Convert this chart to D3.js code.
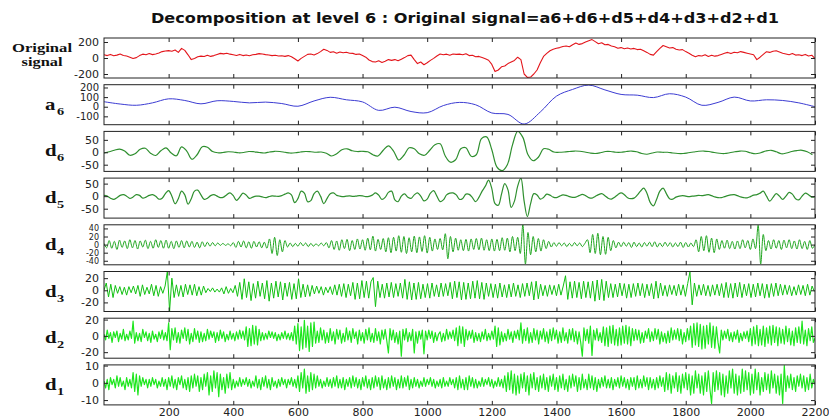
<!DOCTYPE html>
<html>
<head>
<meta charset="utf-8">
<script src="https://cdn.jsdelivr.net/npm/d3@7/dist/d3.min.js"></script>
<style>
  body { margin: 0; background: #fff; }
  svg { display: block; }
</style>
</head>
<body>
<div id="chart"></div>
<script>
/* global d3 */

// x axis ticks (sample index)
const xTicks = [200, 400, 600, 800, 1000, 1200, 1400, 1600, 1800, 2000, 2200];

// original signal, one value every 10 samples
const original = [
  40, 30, 45, 28, 36, 50, 32, 25, 10, -7,
  5, 30, 48, 40, 55, 42, 50, 62, 80, 88,
  92, 85, 100, 70, 120, 95, 40, -20, -5, 15,
  23, 18, 35, 20, 30, 45, 58, 52, 60, 48,
  40, 32, 45, 30, 38, 28, 40, 45, 55, 50,
  42, 38, 30, 35, 25, 28, 20, 30, 15, -10,
  -37, -5, 20, 45, 50, 38, 55, 80, 110, 95,
  70, 78, 60, 75, 65, 72, 60, 58, 45, 50,
  30, 10, -25, -45, -50, -35, -55, -40, -20, -30,
  -20, -35, -15, 5, 30, 36, -20, -70, -50, -84,
  -60, -30, -5, 25, 50, 40, 48, 35, 50, 45,
  48, 40, 52, 30, 35, 15, 20, 5, -10, -28,
  -80, -170, -150, -110, -100, -70, -50, -30, 10, -20,
  -200, -243, -238, -200, -150, -60, 20, 58, 90, 110,
  122, 130, 144, 150, 140, 165, 187, 170, 180, 200,
  215, 230, 205, 178, 190, 165, 170, 150, 140, 122,
  130, 115, 125, 113, 120, 105, 110, 90, 70, 45,
  36, 80, 120, 156, 140, 125, 130, 110, 100, 105,
  80, 60, 35, 15, 30, 25, 40, 20, 35, 23,
  30, 45, 60, 70, 55, 72, 65, 80, 70, 60,
  50, 40, -20, 10, 45, 79, 70, 85, 90, 75,
  60, 50, 40, 55, 36, 40, 30, 45, 25, 35,
  -7,
];

// approximation a6, every 50 samples
const a6 = [
  52, 28, 15, 40, 82, 65, 30, 62, 55, 40,
  48, 33, 5, 60, 98, 72, 50, -38, -5, -50,
  -62, 12, 45, 20, -65, -80, -180, -55, 110, 180,
  225, 175, 128, 120, 95, 135, 100, 15, 45, 100,
  60, 72, 65, 40, 0,
];

// detail d6, every 16 samples
const d6 = [
  -3, 2, 8, 13, 5, -12, -6, 12, 16, -4, -13, 6, 18, -3, -14, 22, 5, -28, -10, 22,
  20, 3, -2, -1, 2, 1, -2, -1, 3, 2, -1, -3, 1, 4, 3, 0, -3, -2, 1, 3,
  2, 0, 1, -4, -15, -6, 10, 14, 6, 3, 4, 2, -10, -15, 8, 26, 5, -31, -12, 18,
  14, -6, -12, 8, 30, 34, -15, -40, -30, 14, 18, -16, -10, 55, 62, 10, -60, -74, -50, 30,
  84, 60, -10, -34, -20, 14, 12, 1, 0, 1, 3, 5, 4, 1, -3, -5, -2, 3, 3, 0,
  0, 3, 5, 2, -5, -8, -3, 1, 0, 0, -3, -5, -5, -2, 1, 4, 5, 3, -1, -4,
  -5, -2, 2, 5, 4, -2, -6, -2, 5, 8, 2, -6, -3, 3, 7, 8, 2, -10,
];

// detail d5, every 10 samples
const d5 = [
  3, 0, -8, -13, -6, 3, 6, 0, -9, -3,
  6, 3, -8, -4, 3, 6, 0, -12, -8, 10,
  22, 0, -30, -10, 20, 5, -32, -10, 20, 24,
  5, -13, -8, 2, 6, 0, -6, -4, 6, 13,
  2, -17, -4, 12, 4, -9, -4, 0, 0, -3,
  -6, -2, 1, 0, -1, 2, 8, 13, 5, -26,
  -10, 20, 12, -22, -18, 10, 20, 0, -30, -10,
  10, 13, 3, 0, -2, 0, 1, -1, 0, 2,
  1, -2, -1, 4, 13, 4, -13, -5, 15, 20,
  -15, -22, 0, 9, -4, -9, 5, 13, 0, -19,
  -12, 12, 22, 0, -22, -15, 5, 12, 13, 5,
  -13, -9, 8, 7, -6, -22, -5, 20, 40, 64,
  30, -30, -36, 8, 50, 25, -45, -20, 40, 72,
  -20, -82, -30, 10, 5, -12, -5, 8, 4, -4,
  -6, 0, 5, 3, -2, -5, -4, 2, 7, 2,
  -6, -8, -1, 6, 10, 2, -8, -12, -4, 6,
  13, 6, -6, -10, -8, 4, 20, 32, 12, -25,
  -39, -12, 20, 32, 10, -10, -12, -4, 0, 2,
  0, -2, 0, 1, 3, 2, 4, 6, 2, -3,
  -6, -6, -2, 2, 5, 6, 2, -3, -6, -7,
  -2, 4, 6, 12, 20, 0, -20, -5, 10, 0,
  -13, 0, 15, 8, -10, -15, 0, 12, 6, -4,
  -2,
];

// detail d4, every 8 samples
const d4 = [
  3, -8, 10, -9, 8, -12, 11, -7, 9, -10, 12, -8, 10, -11, 9, -6, 11, -10, 8, -9, 12, -7, 10, -9, 11,
  -9, 8, -10, 9, -7, 10, -8, 9, -6, 8, -7, 6, -8, 7, -5, 6, -4, 5, -3, 4, -2, 3, -2, 2, -3,
  5, -7, 8, -6, 9, -8, 7, -9, 8, -6, 7, -8, 6, -9, 14, -22, 18, -27, 12, -18, 10, -6, 4, -5, 3,
  -4, 5, -3, 4, -5, 3, -4, 2, -3, 4, -3, 5, -8, 10, -12, 9, -14, 12, -10, 13, -15, 10, -12, 14, -11,
  12, -14, 16, -13, 21, -16, 13, -12, 15, -18, 17, -20, 18, -16, 22, -19, 20, -22, 17, -18, 21, -20, 19, -17, 22,
  -21, 18, -16, 14, -12, 15, -13, 27, -35, 20, -18, 16, -14, 12, -15, 13, -16, 14, -12, 15, -13, 16, -14, 12, -15,
  14, -16, 13, -15, 17, -14, 16, -18, 20, -15, 18, -22, 49, -48, 30, -25, 20, -18, 15, -16, 12, -10, 8, -6, 5,
  -4, 5, -3, 4, -5, 3, -4, 5, -3, 4, -5, 3, 12, -20, 25, -22, 28, -25, 20, -24, 18, -15, 10, -8, 6,
  -5, 6, -4, 5, -7, 6, -5, 4, -6, 5, -4, 6, -5, 7, -6, 4, -5, 6, -4, 5, -6, 4, -5, 6, -7,
  5, -6, 4, -5, 12, -18, 20, -15, 22, -19, 16, -20, 14, -12, 10, -9, 11, -10, 8, -11, 9, -10, 12, -8, 10,
  -12, 14, -10, 48, -48, 25, -15, 10, -11, 12, -9, 10, -12, 11, -8, 12, -10, 9, -11, 12, -10, 8, -12, 10, -9,
  0,
];

// detail d3, every 7 samples
const d3v = [
  0, 12, -11, 10, -12, 8, -5, 6, -7, 5, -8, 6, -4, 7, -6,
  8, -10, 9, -7, 5, -6, 10, -9, 8, -10, 6, -5, 7, 31, -34,
  20, -12, 9, -10, 8, -11, 10, -7, 9, -8, 10, -9, 6, -8, 7,
  -4, 3, -2, 4, -3, 2, -3, 4, -6, 6, -5, 3, -4, 8, -10,
  13, -15, 19, -12, 14, -17, 11, -13, 15, -10, 12, -14, 16, -18, 12,
  -13, 15, -11, 14, -16, 12, -10, 13, -15, 11, -14, 19, -12, 10, -11,
  9, -10, 8, -6, 7, -5, 6, -8, 5, -4, 6, -7, 9, -8, 10,
  -10, 11, -12, 10, -9, 13, -15, 12, -14, 16, -12, 15, -13, 14, 21,
  -27, 15, -12, 10, -13, 12, -11, 13, -12, 11, -10, 12, -13, 18, -15,
  14, -16, 12, -15, 13, -14, 10, -12, 11, -13, 12, -10, 9, -11, 12,
  -10, 11, -9, 13, -14, 15, -12, 14, -16, 13, -15, 12, -14, 15, -13,
  16, -14, 13, -15, 12, -10, 11, -12, 10, -13, 12, -11, 9, -12, 10,
  -11, 12, -10, 9, -12, 11, -10, 12, -9, 14, -16, 15, -14, 10, -9,
  8, -10, 9, -7, 8, -9, 10, -8, 7, 24, -15, 14, -13, 15, -12,
  13, -14, 15, -12, 14, -13, 15, -18, 17, -16, 18, -17, 15, -12, 11,
  -12, 10, -11, 12, -9, 11, -13, 10, -12, 11, -10, 12, -9, 11, -12,
  10, -9, 11, -14, 15, -13, 12, -9, 8, -10, 9, -7, 8, -9, 10,
  -8, 9, -10, 11, 30, -24, 12, -10, 9, -8, 10, -9, 8, -10, 9,
  -8, 10, -9, 11, -12, 13, -12, 11, -13, 12, -11, 13, -12, 10, -9,
  11, -12, 10, -11, 12, -9, 11, -13, 10, -12, 11, -10, 12, -9, 10,
  -8, 9, -7, 8, -9, 6, -8, 9, -7, 8, -9, 10, -8, 7, -2,
];

// detail d2, every 5 samples
const d2 = [
  2, -5, 7, -3, 4, -8, 5, -2, 6, -7, 3, -4, 8, -6, 2, -5, 6, -3, 18, -9,
  4, -6, 3, -7, 8, -2, 5, -6, 3, -8, 6, -4, 2, -7, 5, -3, 7, -5, 4, -6,
  16, -17, 9, -5, 10, -8, 4, -9, 7, -3, 10, -6, 8, -10, 3, -7, 9, -4, 6, -8,
  5, -7, 3, -6, 8, -4, 6, -2, 5, -8, 4, -6, 7, -3, 5, -7, 2, -5, 6, -4,
  3, -6, 5, -4, 7, -3, 6, -5, 11, -13, 9, -12, 13, -10, 12, -11, 8, -6, 4, -5,
  3, -4, 6, -2, 5, -3, 4, -6, 2, -5, 4, -3, 6, -4, 3, -5, 4, -6, 12, -10,
  15, -18, 11, -16, 19, -14, 12, -19, 16, -13, 17, -9, 6, -8, 10, -5, 7, -9, 4, -8,
  9, -6, 5, -10, 8, -4, 7, -9, 3, -7, 10, -5, 6, -8, 9, -3, 5, -10, 7, -6,
  4, -9, 8, -5, 10, -7, 3, -8, 9, -6, 5, -10, 7, -4, 8, -6, -21, 9, -5, 7,
  -8, 4, -10, 6, -25, 8, -5, 9, -7, 4, -6, 8, -21, 5, -9, 6, -4, 7, -22, 6,
  -5, 7, -3, 6, -8, 4, -6, 2, 5, -7, 3, -6, 8, -4, 5, -3, 7, -6, 10, -12,
  12, -9, 11, -13, 8, -5, 6, -3, 7, -8, 4, -6, 3, -7, 5, -4, 8, -6, 3, -5,
  6, -4, 12, -13, 10, -11, 5, -7, 3, -6, 8, -4, 5, -8, 6, -3, 7, -5, 16, -9,
  8, -6, 10, -9, 4, -8, 9, -5, 7, -10, 6, -4, 9, -7, 5, -9, 8, -6, 10, -4,
  7, -9, 5, -8, 10, -6, 4, -9, 8, -5, 9, -7, 6, -10, 5, -8, -25, 10, -6, 8,
  -9, 12, -24, 7, -5, 9, -6, 4, -8, 11, -12, 10, -13, 12, -9, 13, -11, 8, -12, 10,
  -11, 12, -9, 13, -10, 11, -12, 9, -6, 8, -5, 7, -9, 4, -8, 6, -3, 9, -7, 5,
  -6, 9, -4, 8, -10, 5, -7, 3, -9, 6, -8, 10, -5, 7, -4, 9, -6, 8, -10, 4,
  -7, 9, -5, 12, -14, 15, -11, 16, -13, 14, -16, 12, -15, 13, -10, 16, -14, 12, -15, 11,
  -8, -21, 7, -5, 6, -3, 8, -6, 4, -7, 5, -4, 7, -8, 3, -6, 5, -3, 6, -7,
  9, -12, 11, -10, 13, -12, 8, -11, 12, -13, 10, -9, 12, -11, 13, -8, 11, -12, 10, -9,
  8, -10, 12, -7, 9, -11, 6, -12, 10, -8, 11, -9, 18, -10, 7, -12, 9, -6, 11, -8,
  -3,
];

// detail d1, every 5 samples
const d1 = [
  1, -3, 2, -4, 3, -1, 2, -3, 4, -2, 3, -2, 1, -4, 3, -2, 2, -3, 6, -5,
  5, -7, 4, -2, 3, -1, 2, -3, 2, -2, 3, -1, 2, -3, 1, -2, 3, -2, 2, -4,
  3, -2, 4, -3, 2, -4, 3, -1, 4, -3, 2, -4, 3, -5, 4, -3, 5, -2, 4, -5,
  3, -4, 5, -2, 6, -7, 4, -5, 7, -3, 6, -8, 5, -4, 3, -6, 5, -3, 6, -4,
  2, -3, 1, -2, 3, -2, 2, -1, 3, -2, 2, -3, 1, -2, 4, -3, 2, -4, 3, -2,
  4, -3, 2, -4, 3, -2, 1, -3, 2, -2, 3, -1, 2, -3, 2, -1, 3, -2, 2, -3,
  4, -5, 6, -3, 8, -6, 4, -5, 6, -4, 5, -3, 4, -2, 2, -3, 1, -2, 3, -2,
  2, -3, 3, -2, 4, -3, 2, -3, 3, -4, 2, -2, 3, -3, 4, -2, 3, -3, 2, -4,
  3, -2, 4, -3, 2, -4, 3, -3, 4, -2, 3, -4, 4, -3, 2, -4, 3, -3, 4, -2,
  3, -4, 2, -3, 4, -3, 3, -2, 4, -4, 2, -3, 3, -2, 2, -3, 1, -2, 3, -2,
  2, -1, 3, -2, 2, -3, 1, -2, 2, -3, 3, -2, 1, -2, 3, -1, 2, -3, 3, -4,
  4, -3, 2, -4, 3, -4, 4, -2, 3, -3, 2, -3, 1, -2, 3, -2, 2, -1, 3, -2,
  2, -3, 1, -2, 3, -2, 2, -3, 4, -5, 6, -4, 7, -6, 5, -7, 4, -6, 5, -3,
  6, -5, 4, -7, 5, -3, 6, -4, 3, -5, 4, -3, 5, -4, 3, -5, 4, -2, 5, -4,
  3, -5, 4, -3, 5, -4, 2, -5, 4, -3, 5, -2, 4, -5, 3, -4, 5, -3, 2, -4,
  5, -3, 4, -4, 3, -5, 2, -3, 3, -2, 4, -3, 2, -3, 3, -4, 2, -2, 3, -3,
  4, -2, 3, -3, 2, -4, 3, -2, 3, -4, 4, -3, 2, -3, 4, -2, 3, -4, 3, -3,
  2, -4, 3, -3, 4, -2, 3, -5, 6, -4, 5, -6, 4, -3, 6, -5, 4, -6, 5, -3,
  6, -4, 5, -7, 4, -6, 7, -3, 5, -6, 4, -7, 6, -5, 7, -4, -12, 6, -5, 7,
  -4, 6, -7, 5, -8, 4, -6, 7, -3, 8, -6, 5, -7, 4, -6, 8, -5, 7, -4, 6,
  -7, 5, -6, 8, -4, 6, -7, 3, -5, 6, -4, 5, -6, 7, -3, 5, -6, 4, -7, 5,
  -12, 10, -5, 4, -3, 5, -4, 3, -5, 4, -2, 5, -3, 4, -5, 3, -4, 5, -3, 2,
  -1,
];

// y tick labels per panel
const origTicks = [-200, 0, 200];
const a6Ticks = [-100, 0, 100, 200];
const d6Ticks = [-50, 0, 50];
const d5Ticks = [-50, 0, 50];
const d4Ticks = [-40, -20, 0, 20, 40];
const d3Ticks = [-20, 0, 20];
const d2Ticks = [-20, 0, 20];
const d1Ticks = [-10, 0, 10];

const title = 'Decomposition at level 6 : Original signal=a6+d6+d5+d4+d3+d2+d1';

// panel table built from the arrays above
const panels = [
  { name: 'Original', sub: '', values: original, step: 10, domain: [-250, 250], ticks: origTicks, color: '#e3151b', curve: d3.curveLinear, lw: 1.1, fs: 11 },
  { name: 'a', sub: '6', values: a6, step: 50, domain: [-187, 229], ticks: a6Ticks, color: '#3c3cd2', curve: d3.curveCatmullRom, lw: 1, fs: 10 },
  { name: 'd', sub: '6', values: d6, step: 16, domain: [-77, 84], ticks: d6Ticks, color: '#2f8f2f', curve: d3.curveCatmullRom, lw: 1.2, fs: 11 },
  { name: 'd', sub: '5', values: d5, step: 10, domain: [-87.5, 72], ticks: d5Ticks, color: '#2f8f2f', curve: d3.curveCatmullRom, lw: 1.2, fs: 11 },
  { name: 'd', sub: '4', values: d4, step: 8, domain: [-50, 49], ticks: d4Ticks, color: '#1fa51f', curve: d3.curveCatmullRom, lw: 1, fs: 8 },
  { name: 'd', sub: '3', values: d3v, step: 7, domain: [-35, 31], ticks: d3Ticks, color: '#12c012', curve: d3.curveLinear, lw: 1, fs: 11 },
  { name: 'd', sub: '2', values: d2, step: 5, domain: [-27.4, 21.7], ticks: d2Ticks, color: '#1ee61e', curve: d3.curveLinear, lw: 1.2, fs: 11 },
  { name: 'd', sub: '1', values: d1, step: 5, domain: [-12.8, 10.4], ticks: d1Ticks, color: '#1ee61e', curve: d3.curveLinear, lw: 1.2, fs: 11 },
];

const width = 829;
const height = 419;
const plotLeft = 104;
const plotRight = 815;
const firstTop = 38;
const panelGap = 46.7;
const panelHeight = 40;
const tickFont = 'DejaVu Sans, Arial, sans-serif';
const labelFont = 'Liberation Serif, Times New Roman, serif';

const svg = d3.select('#chart').append('svg')
  .attr('width', width)
  .attr('height', height);

svg.append('rect')
  .attr('width', width)
  .attr('height', height)
  .attr('fill', '#fff');

const x = d3.scaleLinear()
  .domain([0, 2200])
  .range([plotLeft, plotRight]);

svg.append('text')
  .attr('x', 465)
  .attr('y', 23)
  .attr('text-anchor', 'middle')
  .attr('font-family', tickFont)
  .attr('font-weight', 'bold')
  .attr('font-size', 13.5)
  .attr('textLength', 628)
  .attr('lengthAdjust', 'spacingAndGlyphs')
  .attr('fill', '#111')
  .text(title);

const styleAxis = function styleAxis(sel, size) {
  sel.select('.domain').remove();
  sel.attr('font-family', tickFont)
    .attr('font-size', size || 11)
    .attr('color', '#222');
};

panels.forEach((p, k) => {
  const top = firstTop + (k * panelGap);
  const bottom = top + panelHeight;
  const mid = (top + bottom) / 2;
  const y = d3.scaleLinear()
    .domain(p.domain)
    .range([bottom, top]);
  const g = svg.append('g').attr('class', `panel panel-${k}`);

  g.append('clipPath')
    .attr('id', `clip${k}`)
    .append('rect')
    .attr('x', plotLeft)
    .attr('y', top)
    .attr('width', plotRight - plotLeft)
    .attr('height', panelHeight);

  const line = d3.line()
    .x((d, i) => x(Math.min(2200, i * p.step)))
    .y(d => y(d))
    .curve(p.curve);

  g.append('path')
    .datum(p.values)
    .attr('clip-path', `url(#clip${k})`)
    .attr('d', line)
    .attr('fill', 'none')
    .attr('stroke', p.color)
    .attr('stroke-width', p.lw)
    .attr('stroke-linejoin', 'round');

  // inward ticks on all four sides, MATLAB style
  g.append('g')
    .attr('transform', `translate(${plotLeft},0)`)
    .call(d3.axisLeft(y).tickValues(p.ticks).tickSize(-4).tickPadding(5)
      .tickFormat(d => String(d)))
    .call(styleAxis, p.fs);
  g.append('g')
    .attr('transform', `translate(${plotRight},0)`)
    .call(d3.axisRight(y).tickValues(p.ticks).tickSize(-4).tickFormat(''))
    .call(styleAxis);
  g.append('g')
    .attr('transform', `translate(0,${top})`)
    .call(d3.axisTop(x).tickValues(xTicks).tickSize(-4).tickFormat(''))
    .call(styleAxis);
  g.append('g')
    .attr('transform', `translate(0,${bottom})`)
    .call(d3.axisBottom(x).tickValues(xTicks).tickSize(-4).tickPadding(3)
      .tickFormat(k === panels.length - 1 ? d => String(d) : ''))
    .call(styleAxis);

  g.append('rect')
    .attr('x', plotLeft)
    .attr('y', top)
    .attr('width', plotRight - plotLeft)
    .attr('height', panelHeight)
    .attr('fill', 'none')
    .attr('stroke', '#222')
    .attr('stroke-width', 1);

  // row label on the left
  if (p.sub === '') {
    g.append('text')
      .attr('x', 42)
      .attr('y', top + 14)
      .attr('text-anchor', 'middle')
      .attr('font-family', labelFont)
      .attr('font-weight', 'bold')
      .attr('font-size', 13)
      .attr('textLength', 60)
      .attr('lengthAdjust', 'spacingAndGlyphs')
      .attr('fill', '#111')
      .text('Original');
    g.append('text')
      .attr('x', 42)
      .attr('y', top + 28)
      .attr('text-anchor', 'middle')
      .attr('font-family', labelFont)
      .attr('font-weight', 'bold')
      .attr('font-size', 13)
      .attr('textLength', 41)
      .attr('lengthAdjust', 'spacingAndGlyphs')
      .attr('fill', '#111')
      .text('signal');
  } else {
    g.append('text')
      .attr('transform', `translate(45,${mid + 5}) scale(1.3,1)`)
      .attr('font-family', labelFont)
      .attr('font-weight', 'bold')
      .attr('font-size', 16)
      .attr('fill', '#111')
      .text(p.name);
    g.append('text')
      .attr('transform', `translate(57,${mid + 10}) scale(1.3,1)`)
      .attr('font-family', labelFont)
      .attr('font-weight', 'bold')
      .attr('font-size', 11)
      .attr('fill', '#111')
      .text(p.sub);
  }
});
</script>
</body>
</html>
